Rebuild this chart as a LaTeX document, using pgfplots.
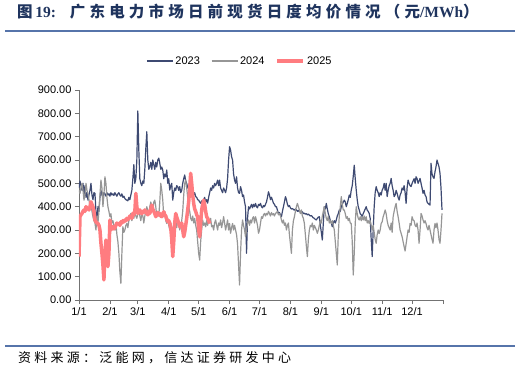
\documentclass[border=0pt]{standalone}
\usepackage{pgfplots}
\pgfplotsset{compat=1.18}
\usepackage{fontspec}
\setmainfont{Liberation Sans}
\newfontfamily\cjktitle[LetterSpace=27]{Noto Sans CJK SC}
\newfontfamily\cjksrc[LetterSpace=25]{Noto Sans CJK SC}
\newfontfamily\serifb{Liberation Serif}
\definecolor{c23}{RGB}{62,74,114}
\definecolor{c24}{RGB}{150,150,150}
\definecolor{c25}{RGB}{255,124,128}
\definecolor{titleblue}{RGB}{31,52,94}
\definecolor{rule}{RGB}{86,116,170}
\begin{document}
\begin{tikzpicture}
\useasboundingbox (0,0) rectangle (520pt,373pt);
\node[anchor=west,inner sep=0pt] at (17pt,361pt) {\color{titleblue}\fontsize{15.5}{18}\selectfont\cjktitle\bfseries 图\,{\serifb\bfseries 19:}\hspace{14pt}广东电力市场日前现货日度均价情况（元{\serifb\bfseries /MWh}）};
\draw[rule,line width=1.5pt] (5pt,342pt) -- (515pt,342pt);
\draw[rule,line width=1.5pt] (5pt,27pt) -- (515pt,27pt);
\node[anchor=west,inner sep=0pt] at (18pt,15pt) {\fontsize{13}{15}\selectfont\cjksrc 资料来源：泛能网，信达证券研发中心};
\begin{axis}[
  at={(79pt,73pt)}, anchor=south west, scale only axis,
  width=364pt, height=210pt,
  xmin=0, xmax=365, ymin=0, ymax=900,
  axis x line*=bottom, axis y line*=left,
  axis line style={draw=black!55, line width=0.9pt, -},
  tick style={draw=black!55, line width=0.8pt},
  tick align=outside, major tick length=4pt,
  xtick={0,31,59,90,120,151,181,212,243,273,304,334,365},
  xticklabels={1/1,2/1,3/1,4/1,5/1,6/1,7/1,8/1,9/1,10/1,11/1,12/1,{}},
  ytick={0,100,...,900},
  yticklabel={\pgfmathprintnumber[fixed,fixed zerofill,precision=2,assume math mode=true]{\tick}},
  ticklabel style={font=\fontsize{11}{13}\selectfont},
  legend style={at={(0.442,1.138)}, anchor=center, legend columns=3, draw=none, fill=none,
    font=\fontsize{11}{13}\selectfont, /tikz/every even column/.append style={column sep=9pt}},
  legend image code/.code={\draw[#1] (0pt,0pt) -- (26pt,0pt);},
  line join=round,
]
\addplot[c23, line width=1.2pt, mark=none] coordinates {
(0,480)(1,510)(2,490)(3,470)(4,500)(5,450)(6,490)(7,440)(8,460)(9,428)(10,450)(11,470)(12,500)(13,450)(14,430)(15,460)(16,457)(17,380)(18,336)(19,400)(20,380)(21,440)(22,471)(23,450)(24,440)(25,460)(26,455)(27,445)(28,460)(29,450)(30,455)(31,445)(32,460)(33,450)(34,455)(35,448)(36,460)(37,452)(38,445)(39,455)(40,460)(41,450)(42,445)(43,455)(44,440)(45,445)(46,435)(47,430)(48,428)(49,425)(50,440)(51,430)(52,450)(53,470)(54,520)(55,580)(56,500)(57,520)(58,600)(59,810)(60,640)(61,520)(62,500)(63,490)(64,510)(65,500)(66,560)(67,650)(68,721)
(69,600)(70,560)(71,571)(72,590)(73,560)(74,600)(75,580)(76,560)(77,590)(78,570)(79,600)(80,608)(81,587)(82,560)(83,570)(84,557)(85,520)(86,540)(87,528)(88,557)(89,500)(90,520)(91,471)(92,490)(93,500)(94,428)(95,460)(96,480)(97,470)(98,490)(99,485)(100,470)(101,486)(102,460)(103,470)(104,500)(105,520)(106,536)(107,510)(108,500)(109,480)(110,490)(111,471)(112,470)(113,460)(114,471)(115,450)(116,460)(117,443)(118,440)(119,430)(120,428)(121,420)(122,415)(123,425)(124,415)(125,430)(126,440)(127,420)(128,430)(129,415)(130,440)(131,460)(132,480)(133,470)(134,490)(135,480)(136,500)(137,490)(138,500)(139,514)(140,490)(141,514)(142,480)(143,470)(144,460)(145,480)(146,471)(147,460)(148,480)(149,520)(150,600)(151,657)(152,643)(153,614)(154,600)(155,540)(156,514)(157,500)(158,528)(159,480)(160,460)(161,457)(162,486)(163,470)(164,443)(165,450)(166,420)(167,400)(168,200)(169,350)(170,400)(171,390)
(172,400)(173,410)(174,395)(175,410)(176,400)(177,414)(178,400)(179,395)(180,410)(181,405)(182,414)(183,400)(184,395)(185,405)(186,400)(187,410)(188,420)(189,440)(190,464)(191,450)(192,430)(193,440)(194,428)(195,415)(196,410)(197,400)(198,400)(199,385)(200,370)(201,375)(202,365)(203,357)(204,380)(205,400)(206,420)(207,443)(208,430)(209,410)(210,400)(211,405)(212,395)(213,390)(214,392)(215,388)(216,385)(217,390)(218,386)(219,380)(220,384)(221,378)(222,380)(223,375)(224,378)(225,370)(226,372)(227,368)(228,370)(229,365)
(230,368)(231,364)(232,360)(233,362)(234,357)(235,352)(236,350)(237,345)(238,343)(239,350)(240,355)(241,357)(242,320)(243,290)(244,257)(245,330)(246,400)(247,390)(248,414)(249,390)(250,370)(251,357)(252,340)(253,330)(254,314)(255,330)(256,340)(257,330)(258,343)(259,360)(260,370)(261,386)(262,380)(263,400)(264,410)(265,420)(266,428)(267,420)(268,400)(269,414)(270,430)(271,450)(272,440)(273,471)(274,490)(275,530)(276,578)(277,520)(278,471)(279,430)(280,400)(281,386)(282,370)(283,365)(284,357)(285,370)(286,380)(287,390)(288,400)(289,385)(290,380)(291,371)(292,350)(293,260)(294,186)(295,300)(296,400)(297,460)(298,486)(299,470)
(300,460)(301,443)(302,460)(303,450)(304,471)(305,480)(306,500)(307,470)(308,500)(309,443)(310,470)(311,490)(312,500)(313,521)(314,490)(315,470)(316,443)(317,450)(318,470)(319,457)(320,440)(321,428)(322,450)(323,460)(324,480)(325,471)(326,490)(327,460)(328,414)(329,480)(330,514)(331,500)(332,490)(333,486)(334,500)(335,510)(336,520)(337,500)(338,528)(339,520)(340,500)(341,510)(342,521)(343,500)(344,480)(345,457)(346,470)(347,450)(348,443)(349,420)(350,414)(351,410)(352,407)(353,586)(354,540)(355,528)(356,521)(357,550)(358,571)(359,600)(360,585)(361,571)(362,543)(363,480)(364,386)
};
\addlegendentry{2023}
\addplot[c24, line width=1.2pt, mark=none] coordinates {
(0,470)(1,457)(2,480)(3,500)(4,470)(5,428)(6,450)(7,500)(8,470)(9,457)(10,430)(11,400)(12,420)(13,380)(14,357)(15,340)(16,330)(17,300)(18,360)(19,330)(20,380)(21,450)(22,514)(23,480)(24,400)(25,450)(26,528)(27,500)(28,440)(29,400)(30,380)(31,357)(32,370)(33,330)(34,340)(35,320)(36,300)(37,330)(38,280)(39,250)(40,200)(41,120)(42,71)(43,200)(44,314)(45,290)(46,300)(47,320)(48,328)(49,310)(50,340)(51,350)(52,371)(53,340)(54,360)(55,350)(56,380)(57,360)(58,350)(59,370)(60,380)(61,360)(62,340)(63,370)(64,360)(65,330)(66,360)(67,380)(68,400)(69,380)(70,370)(71,400)(72,420)(73,400)(74,380)(75,420)(76,428)(77,400)(78,357)(79,380)(80,360)(81,420)(82,500)(83,470)(84,428)(85,357)(86,380)(87,340)(88,328)(89,350)(90,320)(91,300)(92,330)(93,310)(94,286)(95,320)(96,300)(97,330)(98,310)(99,350)
(100,330)(101,300)(102,320)(103,340)(104,380)(105,450)(106,500)(107,514)(108,480)(109,440)(110,400)(111,380)(112,350)(113,340)(114,360)(115,330)(116,350)(117,320)(118,300)(119,250)(120,200)(121,171)(122,250)(123,300)(124,343)(125,320)(126,330)(127,314)(128,340)(129,320)(130,343)(131,330)(132,350)(133,314)(134,320)(135,300)(136,330)(137,343)(138,320)(139,300)(140,330)(141,320)(142,343)(143,310)(144,330)(145,357)(146,330)(147,300)(148,320)(149,343)(150,300)(151,328)(152,286)(153,310)(154,328)(155,300)(156,320)(157,300)(158,280)(159,240)(160,150)(161,64)(162,200)(163,300)(164,343)(165,320)(166,300)(167,271)(168,300)(169,330)(170,343)(171,320)(172,343)(173,330)(174,350)(175,357)(176,330)(177,357)(178,340)(179,320)(180,286)(181,300)(182,330)(183,357)(184,350)(185,365)(186,371)(187,360)(188,371)(189,365)(190,380)(191,371)(192,360)(193,375)(194,365)(195,370)(196,360)(197,371)(198,375)(199,380)(200,365)(201,371)(202,360)(203,343)(204,330)
(205,343)(206,320)(207,330)(208,300)(209,320)(210,330)(211,280)(212,240)(213,200)(214,300)(215,340)(216,357)(217,380)(218,400)(219,414)(220,400)(221,386)(222,370)(223,386)(224,360)(225,350)(226,328)(227,280)(228,230)(229,186)(230,260)(231,300)(232,320)(233,314)(234,330)(235,300)(236,320)(237,310)(238,300)(239,286)(240,300)(241,320)(242,340)(243,330)(244,360)(245,380)(246,400)(247,370)(248,350)(249,340)(250,360)(251,330)(252,340)(253,328)(254,340)(255,320)(256,300)(257,250)(258,200)(259,150)(260,280)(261,360)(262,400)(263,443)(264,410)(265,386)(266,386)(267,370)(268,350)(269,357)(270,340)(271,350)(272,330)(273,328)(274,250)(275,107)(276,200)(277,330)(278,400)(279,370)(280,350)(281,343)(282,357)(283,340)(284,357)(285,343)(286,360)(287,340)(288,357)(289,330)(290,340)(291,328)(292,340)(293,320)(294,300)(295,320)(296,290)(297,260)(298,243)(299,280)(300,300)
(301,285)(302,300)(303,328)(304,335)(305,357)(306,370)(307,386)(308,370)(309,340)(310,320)(311,310)(312,300)(313,330)(314,290)(315,357)(316,380)(317,400)(318,414)(319,380)(320,357)(321,330)(322,300)(323,286)(324,271)(325,250)(326,229)(327,210)(328,240)(329,271)(330,300)(331,290)(332,328)(333,320)(334,357)(335,343)(336,340)(337,320)(338,314)(339,330)(340,300)(341,243)(342,300)(343,371)(344,360)(345,343)(346,330)(347,340)(348,328)(349,310)(350,300)(351,320)(352,300)(353,280)(354,260)(355,243)(356,300)(357,328)(358,310)(359,330)(360,300)(361,260)(362,243)(363,300)(364,371)
};
\addlegendentry{2024}
\addplot[c25, line width=3.5pt, mark=none] coordinates {
(0,186)(1,357)(2,365)(3,371)(4,380)(5,386)(6,380)(7,400)(8,395)(9,390)(10,386)(11,400)(12,421)(13,410)(14,400)(15,380)(16,343)(17,335)(18,330)(19,328)(20,320)(21,300)(22,243)(23,200)(24,150)(25,86)(26,200)(27,257)(28,220)(29,143)(30,200)(31,343)(32,300)(33,310)(34,314)(35,305)(36,310)(37,320)(38,330)(39,325)(40,328)(41,320)(42,335)(43,330)(44,340)(45,335)(46,343)(47,340)(48,350)(49,345)(50,350)(51,360)(52,357)(53,350)(54,371)(55,365)(56,380)(57,457)(58,400)(59,371)(60,380)(61,386)(62,375)(63,370)(64,380)(65,375)(66,386)(67,380)(68,371)(69,365)(70,380)(71,371)(72,390)(73,407)(74,390)(75,380)(76,370)(77,357)(78,365)(79,375)(80,365)(81,371)(82,360)(83,357)(84,370)(85,378)(86,365)(87,360)(88,345)(89,336)(90,340)(91,330)(92,310)(93,260)(94,186)(95,250)(96,330)(97,371)(98,355)(99,343)(100,330)(101,314)(102,320)(103,330)(104,300)(105,271)(106,290)(107,320)(108,350)(109,386)(110,420)(111,480)(112,543)(113,500)(114,450)(115,414)(116,390)(117,380)(118,365)(119,357)(120,300)(121,271)(122,330)(123,386)(124,410)(125,428)(126,410)(127,380)(128,357)(129,350)(130,340)(131,328)
};
\addlegendentry{2025}
\end{axis}
\end{tikzpicture}
\end{document}
